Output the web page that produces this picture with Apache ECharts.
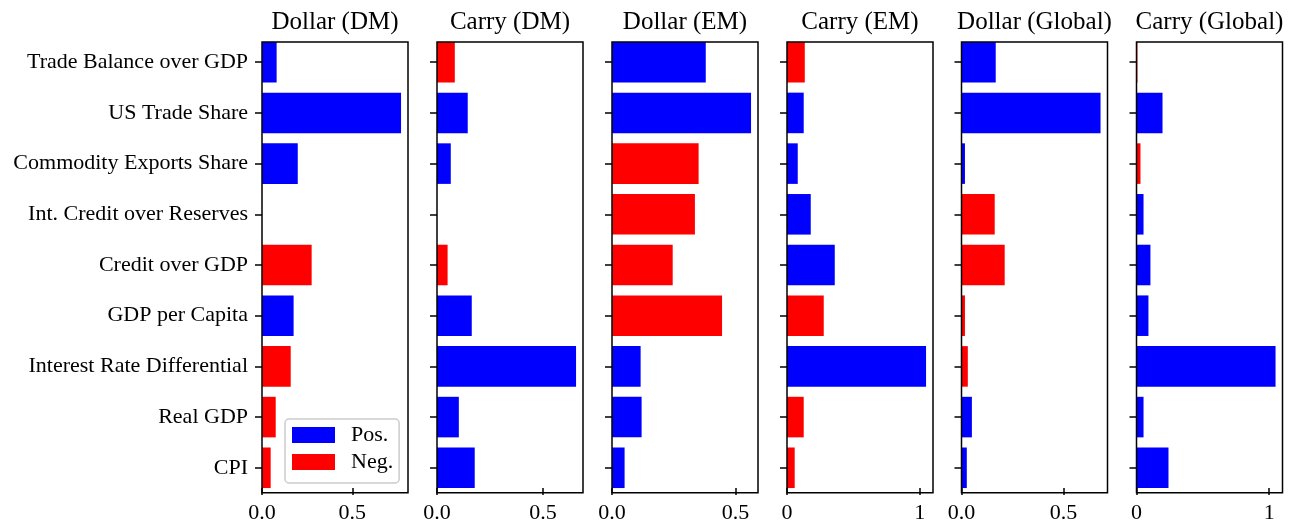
<!DOCTYPE html>
<html>
<head>
<meta charset="utf-8">
<style>
  html, body { margin: 0; padding: 0; background: #fff; }
  #chart { width: 1296px; height: 524px; }
</style>
<script src="https://cdn.jsdelivr.net/npm/echarts@6/dist/echarts.min.js"></script>
</head>
<body>
<div id="chart"></div>
<script>
// Categories shared by every panel (top to bottom)
const categories = [
  'Trade Balance over GDP',
  'US Trade Share',
  'Commodity Exports Share',
  'Int. Credit over Reserves',
  'Credit over GDP',
  'GDP per Capita',
  'Interest Rate Differential',
  'Real GDP',
  'CPI'
];

const panelTitles = ['Dollar (DM)', 'Carry (DM)', 'Dollar (EM)', 'Carry (EM)', 'Dollar (Global)', 'Carry (Global)'];

// Signed loadings: sign picks the colour (Pos./Neg.), magnitude is the bar length
const dollarDM     = [0.081, 0.770, 0.198, 0, -0.275, 0.175, -0.159, -0.076, -0.048];
const carryDM      = [-0.084, 0.145, 0.065, 0, -0.050, 0.164, 0.656, 0.103, 0.178];
const dollarEM     = [0.380, 0.5635, -0.351, -0.336, -0.246, -0.446, 0.116, 0.120, 0.051];
const carryEM      = [-0.134, 0.126, 0.081, 0.179, 0.360, -0.277, 1.048, -0.126, -0.058];
const dollarGlobal = [0.168, 0.6824, 0.017, -0.163, -0.212, -0.017, -0.031, 0.051, 0.026];
const carryGlobal  = [-0.007, 0.196, -0.030, 0.053, 0.105, 0.090, 1.0475, 0.053, 0.241];

// x-axis tick values and their labels for each panel
const tickValues = [[0, 0.5], [0, 0.5], [0, 0.5], [0, 1], [0, 0.5], [0, 1]];
const tickLabels = [['0.0', '0.5'], ['0.0', '0.5'], ['0.0', '0.5'], ['0', '1'], ['0.0', '0.5'], ['0', '1']];

const panels = [dollarDM, carryDM, dollarEM, carryEM, dollarGlobal, carryGlobal];

const FONT = '"Liberation Serif", "DejaVu Serif", serif';
const POS = '#0000ff';
const NEG = '#ff0000';
const SPINE = 1.5;

// Visible axes frame of each panel
const panelLeft = [262, 437, 612, 787, 961.5, 1136.5];
const panelWidth = 146;
const frameTop = 42;
const frameHeight = 450.7;

// Bars fill 80% of each category slot and the outer bars touch the frame,
// so the category band grid sticks out by half a gap above and below.
const nCat = categories.length;
const pitch = frameHeight / (nCat - 0.2);
const halfGap = 0.1 * pitch;
const gridTop = frameTop - halfGap;
const gridHeight = nCat * pitch;

const grid = [], xAxis = [], yAxis = [], series = [], title = [], frames = [];

panels.forEach((vals, i) => {
  grid.push({
    left: panelLeft[i], top: gridTop, width: panelWidth, height: gridHeight,
    show: false
  });
  const labels = tickLabels[i];
  const ticks = tickValues[i];
  xAxis.push({
    type: 'value', gridIndex: i, min: 0,
    max: v => v.max * 1.05,
    offset: -halfGap,
    splitLine: { show: false },
    axisLine: { show: false },
    axisTick: { show: true, length: 7, lineStyle: { color: '#000', width: SPINE }, customValues: ticks },
    axisLabel: {
      show: true, customValues: ticks, margin: 14,
      fontFamily: FONT, fontSize: 22, color: '#000',
      formatter: v => labels[ticks.indexOf(v)] ?? ''
    }
  });
  yAxis.push({
    type: 'category', gridIndex: i, data: categories, inverse: true,
    axisLine: { show: false },
    axisTick: { show: true, alignWithLabel: true, length: 7, lineStyle: { color: '#000', width: SPINE } },
    axisLabel: {
      show: i === 0, margin: 14, padding: [4, 0, 0, 0],
      fontFamily: FONT, fontSize: 22, color: '#000'
    },
    splitLine: { show: false }
  });
  series.push({
    name: 'Pos.', type: 'bar', xAxisIndex: i, yAxisIndex: i,
    barCategoryGap: '20%', barGap: '-100%',
    itemStyle: { color: POS },
    data: vals.map(v => v > 0 ? v : '-')
  });
  series.push({
    name: 'Neg.', type: 'bar', xAxisIndex: i, yAxisIndex: i,
    barCategoryGap: '20%', barGap: '-100%',
    itemStyle: { color: NEG },
    data: vals.map(v => v < 0 ? -v : '-')
  });
  title.push({
    text: panelTitles[i],
    left: panelLeft[i] + panelWidth / 2,
    textAlign: 'center',
    top: 10,
    padding: 0,
    textStyle: { fontFamily: FONT, fontSize: 25, fontWeight: 'normal', color: '#000' }
  });
  // axes spines drawn above the bars
  frames.push({
    type: 'rect', z: 50, silent: true,
    shape: { x: panelLeft[i], y: frameTop, width: panelWidth, height: frameHeight },
    style: { fill: 'none', stroke: '#000', lineWidth: SPINE }
  });
});

const chart = echarts.init(document.getElementById('chart'), null, { renderer: 'canvas' });
chart.setOption({
  animation: false,
  backgroundColor: '#fff',
  title,
  grid, xAxis, yAxis, series,
  graphic: frames,
  legend: {
    data: ['Pos.', 'Neg.'],
    orient: 'vertical',
    left: 285, top: 419,
    z: 60,
    itemWidth: 43, itemHeight: 16, itemGap: 5,
    padding: [5, 6, 10, 7],
    backgroundColor: 'rgba(255,255,255,0.8)',
    borderColor: '#cccccc', borderWidth: 1.5, borderRadius: 4,
    icon: 'rect',
    textStyle: { fontFamily: FONT, fontSize: 22, color: '#000', padding: [3, 0, 0, 11] }
  }
});
</script>
</body>
</html>
